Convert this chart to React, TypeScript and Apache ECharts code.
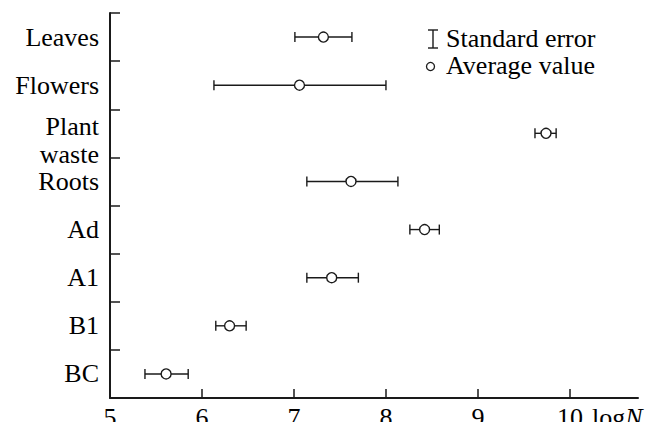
import React, { useEffect, useRef } from "react";
import * as echarts from "echarts";

const categories = ["Leaves", "Flowers", "Plant\nwaste", "Roots", "Ad", "A1", "B1", "BC"];
const meanValues = [7.32, 7.06, 9.74, 7.62, 8.42, 7.41, 6.30, 5.61];
const lowValues = [7.01, 6.13, 9.62, 7.14, 8.26, 7.14, 6.15, 5.38];
const highValues = [7.63, 8.0, 9.85, 8.13, 8.58, 7.70, 6.48, 5.85];
const xTicks = [5, 6, 7, 8, 9, 10];

const FONT = "Times New Roman, Liberation Serif, serif";
const INK = "#1a1a1a";

export default function App() {
  const ref = useRef<HTMLDivElement>(null);
  useEffect(() => {
    if (!ref.current) return;
    const chart = echarts.init(ref.current, null, { renderer: "svg" });
    const errData = categories.map((_, i) => [lowValues[i], highValues[i], i]);
    const meanData = categories.map((_, i) => [meanValues[i], i]);
    chart.setOption({
      animation: false,
      textStyle: { fontFamily: FONT },
      grid: { left: 110, right: 19, top: 13, bottom: 31, containLabel: false },
      xAxis: {
        type: "value",
        min: 5,
        max: 10.74,
        interval: 1,
        splitLine: { show: false },
        axisLine: { show: true, onZero: false, lineStyle: { color: INK, width: 2 } },
        axisTick: { show: true, inside: true, length: 9, customValues: xTicks, lineStyle: { color: INK, width: 1.5 } },
        axisLabel: {
          customValues: xTicks,
          color: "#000",
          fontFamily: FONT,
          fontSize: 26,
          lineHeight: 26,
          margin: 6,
        },
      },
      yAxis: {
        type: "category",
        inverse: true,
        data: categories,
        axisLine: { show: true, lineStyle: { color: INK, width: 2 } },
        axisTick: { show: true, inside: true, length: 10, lineStyle: { color: INK, width: 1.5 } },
        axisLabel: {
          color: "#000",
          fontFamily: FONT,
          fontSize: 26,
          lineHeight: 28,
          margin: 11,
          align: "right",
          formatter: (v: string) =>
            v.includes("\n")
              ? "{sp| }\n" + v.split("\n").map((s) => `{t|${s}}`).join("\n")
              : v,
          rich: {
            sp: { fontSize: 4, lineHeight: 14, fontFamily: FONT },
            t: { fontSize: 26, lineHeight: 28, fontFamily: FONT, color: "#000", align: "right" },
          },
        },
        splitLine: { show: false },
      },
      series: [
        {
          type: "custom",
          data: errData,
          encode: { x: [0, 1], y: 2 },
          renderItem: (params: any, api: any) => {
            const y = api.value(2);
            const p1 = api.coord([api.value(0), y]);
            const p2 = api.coord([api.value(1), y]);
            const h = 5;
            const style = { stroke: INK, lineWidth: 1.4 };
            return {
              type: "group",
              children: [
                { type: "line", shape: { x1: p1[0], y1: p1[1], x2: p2[0], y2: p2[1] }, style },
                { type: "line", shape: { x1: p1[0], y1: p1[1] - h, x2: p1[0], y2: p1[1] + h }, style },
                { type: "line", shape: { x1: p2[0], y1: p2[1] - h, x2: p2[0], y2: p2[1] + h }, style },
              ],
            };
          },
          z: 2,
        },
        {
          type: "scatter",
          data: meanData,
          symbol: "circle",
          symbolSize: 10,
          itemStyle: { color: "#fff", borderColor: INK, borderWidth: 1.4, opacity: 1 },
          z: 3,
        },
      ],
      graphic: [
        { type: "line", shape: { x1: 433, y1: 30, x2: 433, y2: 48 }, style: { stroke: INK, lineWidth: 1.4 } },
        { type: "line", shape: { x1: 428, y1: 30, x2: 438, y2: 30 }, style: { stroke: INK, lineWidth: 1.4 } },
        { type: "line", shape: { x1: 428, y1: 48, x2: 438, y2: 48 }, style: { stroke: INK, lineWidth: 1.4 } },
        { type: "circle", shape: { cx: 430.5, cy: 66.5, r: 4 }, style: { fill: "#fff", stroke: INK, lineWidth: 1.3 } },
        {
          type: "text",
          style: { x: 446, y: 38, text: "Standard error", fontFamily: FONT, fontSize: 26, fill: "#000", verticalAlign: "middle" },
        },
        {
          type: "text",
          style: { x: 446, y: 65, text: "Average value", fontFamily: FONT, fontSize: 26, fill: "#000", verticalAlign: "middle" },
        },
        {
          type: "text",
          style: {
            x: 592,
            y: 417,
            text: "log{i|N}",
            fontFamily: FONT,
            fontSize: 26,
            fill: "#000",
            verticalAlign: "middle",
            rich: { i: { fontStyle: "italic", fontFamily: FONT, fontSize: 26 } },
          },
        },
      ],
    });
    return () => chart.dispose();
  }, []);
  return <div ref={ref} style={{ width: 657, height: 430, margin: -8 }} />;
}
